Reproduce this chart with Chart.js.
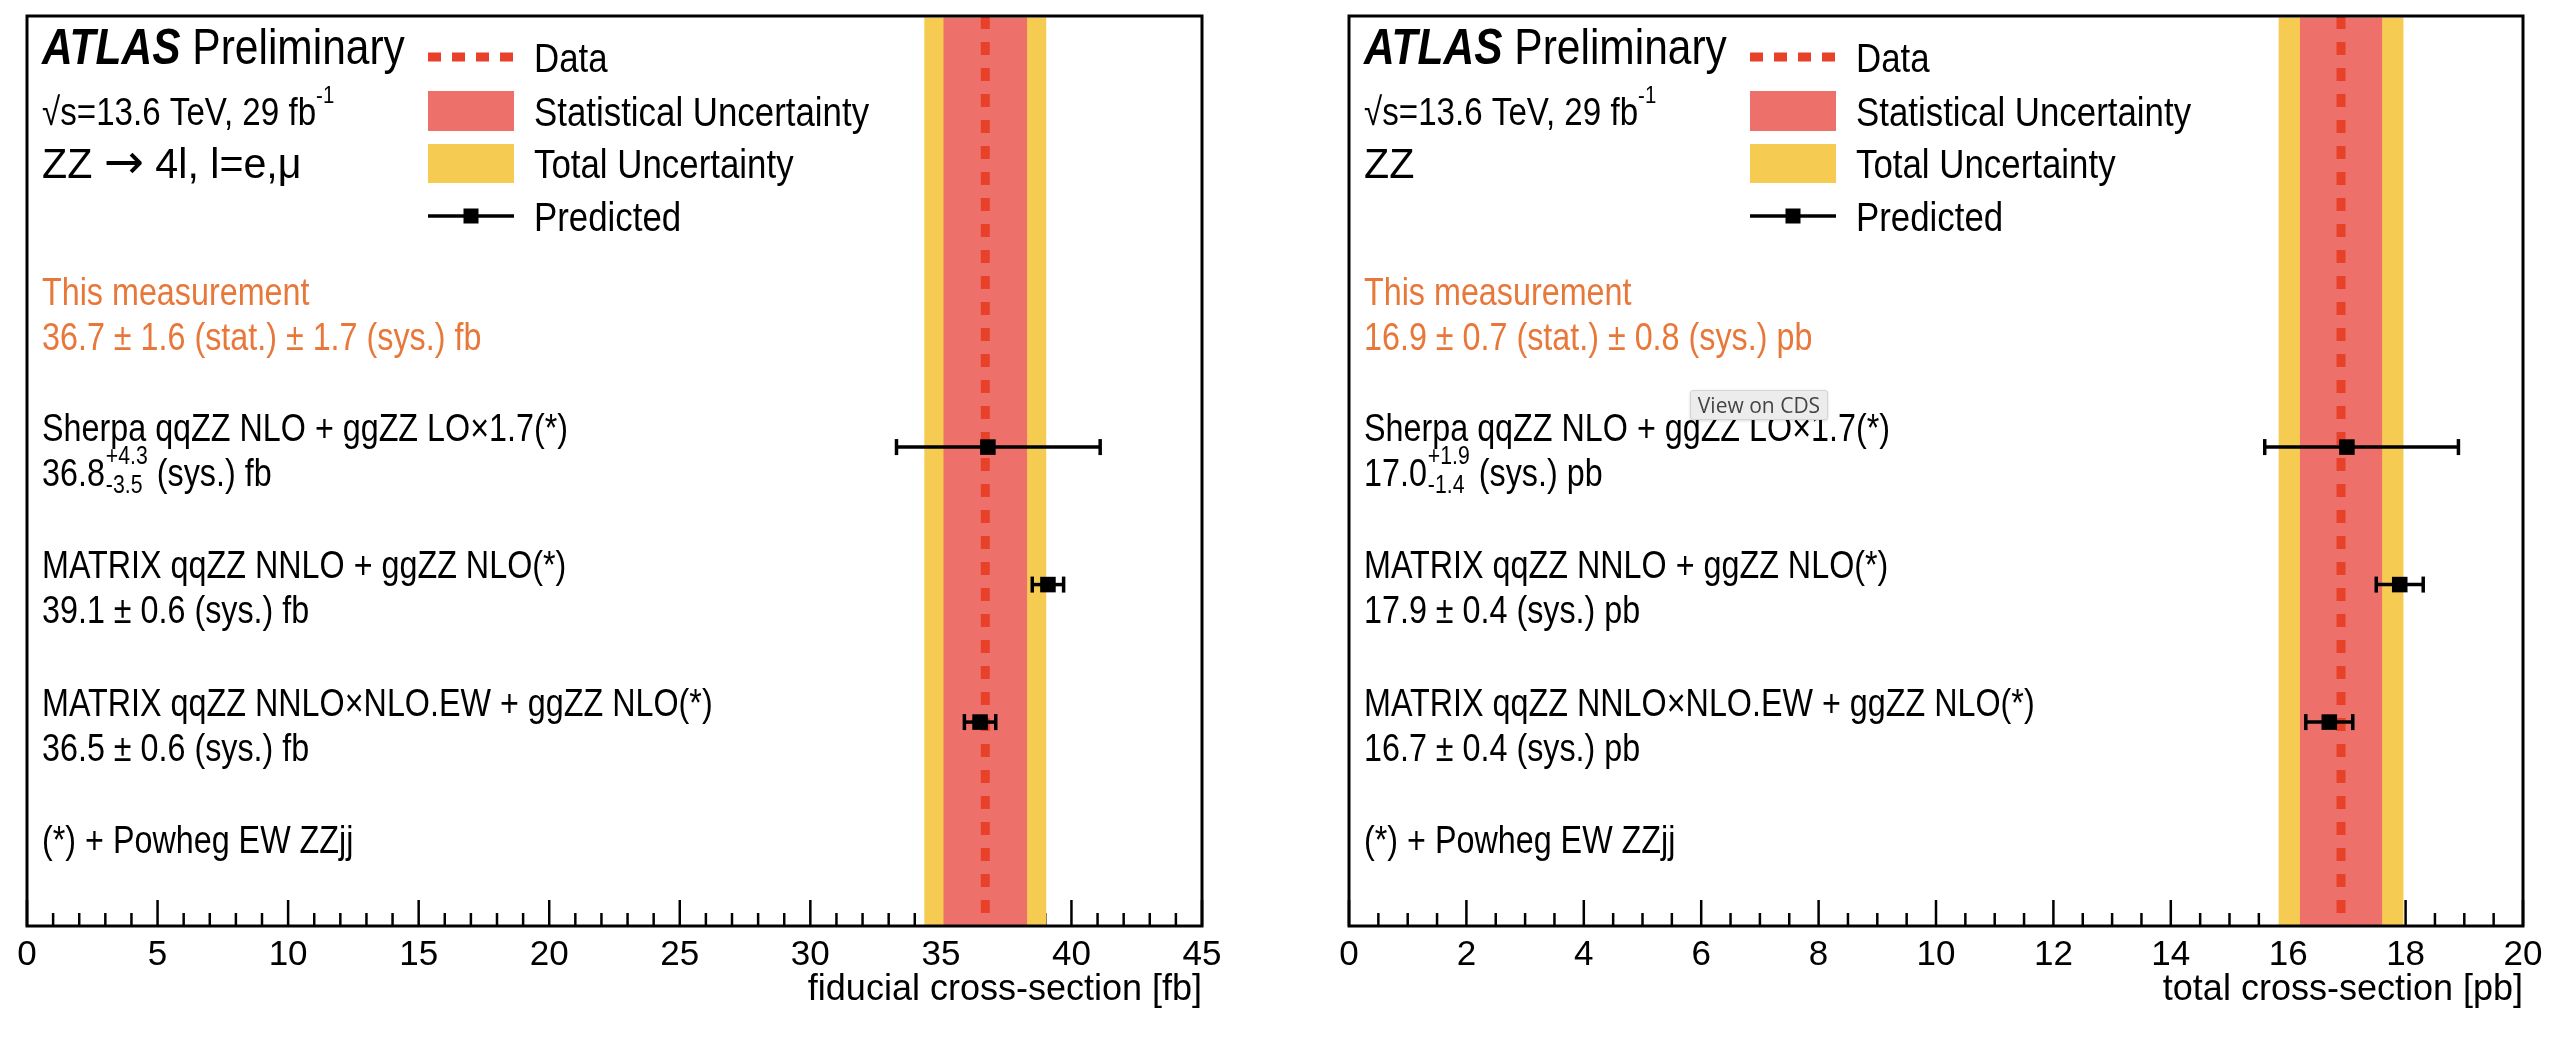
<!DOCTYPE html>
<html>
<head>
<meta charset="utf-8">
<script src="https://cdn.jsdelivr.net/npm/chart.js@4.4.1/dist/chart.umd.min.js"></script>
<style>
  html, body { margin: 0; padding: 0; background: #fff; overflow: hidden; }
  #wrap { position: relative; width: 2560px; height: 1042px; }
  canvas { position: absolute; top: 0; }
  #fidCanvas { left: 0; }
  #totCanvas { left: 1280px; }
  #cdsTip {
    position: absolute; left: 1690px; top: 390px; width: 136px; height: 28px;
    background: #ececec; border: 1px solid #d4d4d4; border-radius: 3px;
    box-shadow: 0 1px 3px rgba(0,0,0,0.15);
    font: 21px 'Open Sans', sans-serif; color: #444; text-align: center; line-height: 28px;
  }
</style>
</head>
<body>
<div id="wrap">
  <canvas id="fidCanvas" width="1280" height="1042"></canvas>
  <canvas id="totCanvas" width="1280" height="1042"></canvas>
  <div id="cdsTip">View on CDS</div>
</div>
<script>
// ---- data ----
const modelNames = [
  'Sherpa qqZZ NLO + ggZZ LO×1.7(*)',
  'MATRIX qqZZ NNLO + ggZZ NLO(*)',
  'MATRIX qqZZ NNLO×NLO.EW + ggZZ NLO(*)'
];

// fiducial cross-section [fb]
const fidMeas = 36.7, fidStat = 1.6, fidSys = 1.7;
const fidPred = [36.8, 39.1, 36.5];
const fidErrUp = [4.3, 0.6, 0.6];
const fidErrDown = [3.5, 0.6, 0.6];

// total cross-section [pb]
const totMeas = 16.9, totStat = 0.7, totSys = 0.8;
const totPred = [17.0, 17.9, 16.7];
const totErrUp = [1.9, 0.4, 0.4];
const totErrDown = [1.4, 0.4, 0.4];

const legendLabels = ['Data', 'Statistical Uncertainty', 'Total Uncertainty', 'Predicted'];
const footnote = '(*) + Powheg EW ZZjj';

// ---- style ----
const FONT = "'Liberation Sans', Arial, Helvetica, sans-serif";
const SX = 0.85;             // condensed look of the ROOT fonts
const YELLOW = '#f6cb52';
const RED = '#ee706a';
const DATA_RED = '#e8412a';
const ORANGE = '#e8783a';
const Y_MIN = -2.135, Y_MAX = 4.483;

Chart.defaults.font.family = FONT;
Chart.defaults.color = '#000';

function txt(ctx, s, x, yc, size, o) {
  o = o || {};
  ctx.save();
  ctx.font = (o.italic ? 'italic ' : '') + (o.bold ? 'bold ' : '') + size + 'px ' + (o.family || FONT);
  ctx.fillStyle = o.color || '#000';
  ctx.textBaseline = 'alphabetic';
  ctx.translate(x, yc + 0.36 * size + (o.dy || 0));
  ctx.scale(o.sx || SX, 1);
  ctx.fillText(s, 0, 0);
  const w = ctx.measureText(s).width * (o.sx || SX);
  ctx.restore();
  return w;
}

function fmt(v) { return v.toFixed(1); }

function panelPlugin(p) {
  return {
    id: 'zzPanel',
    beforeDatasetsDraw(chart) {
      const ctx = chart.ctx, a = chart.chartArea, x = chart.scales.x;
      // inward tick marks
      ctx.save();
      ctx.strokeStyle = '#000';
      ctx.lineWidth = 2.5;
      x.ticks.forEach(t => {
        const px = x.getPixelForValue(t.value);
        const r = t.value / p.major;
        const len = Math.abs(r - Math.round(r)) < 1e-6 ? 26 : 13;
        ctx.beginPath();
        ctx.moveTo(px, a.bottom);
        ctx.lineTo(px, a.bottom - len);
        ctx.stroke();
      });
      // uncertainty bands
      const tot = Math.hypot(p.stat, p.sys);
      const x1 = x.getPixelForValue(p.meas - tot), x2 = x.getPixelForValue(p.meas + tot);
      ctx.fillStyle = YELLOW;
      ctx.fillRect(x1, a.top + 1.5, x2 - x1, a.bottom - a.top - 1.5);
      const s1 = x.getPixelForValue(p.meas - p.stat), s2 = x.getPixelForValue(p.meas + p.stat);
      ctx.fillStyle = RED;
      ctx.fillRect(s1, a.top + 1.5, s2 - s1, a.bottom - a.top - 1.5);
      ctx.restore();
    },
    afterDraw(chart) {
      const ctx = chart.ctx, a = chart.chartArea, y = chart.scales.y;
      // frame
      ctx.save();
      ctx.strokeStyle = '#000';
      ctx.lineWidth = 3;
      ctx.strokeRect(a.left, a.top, a.right - a.left, a.bottom - a.top);
      ctx.restore();

      const tx = a.left + 15;
      // ATLAS label
      let w = txt(ctx, 'ATLAS', tx, 46, 50, { bold: true, italic: true });
      txt(ctx, ' Preliminary', tx + w, 46, 50);
      w = txt(ctx, '√s=13.6 TeV, 29 fb', tx, 111, 39);
      txt(ctx, '-1', tx + w, 111, 24, { dy: -17 });
      let px = tx;
      p.process.forEach(seg => {
        px += seg === '→'
          ? txt(ctx, seg, px, 163, 48, { family: "'DejaVu Sans', sans-serif", sx: 1, dy: -2 })
          : txt(ctx, seg, px, 163, 42, { sx: 0.98 });
      });

      // legend
      const lx = a.left + 401, lw = 86, ltx = a.left + 507;
      ctx.save();
      ctx.strokeStyle = DATA_RED;
      ctx.lineWidth = 9;
      ctx.setLineDash([13, 11]);
      ctx.beginPath(); ctx.moveTo(lx, 57); ctx.lineTo(lx + lw, 57); ctx.stroke();
      ctx.setLineDash([]);
      ctx.fillStyle = RED; ctx.fillRect(lx, 91, lw, 40);
      ctx.fillStyle = YELLOW; ctx.fillRect(lx, 144, lw, 39);
      ctx.strokeStyle = '#000'; ctx.lineWidth = 3.5;
      ctx.beginPath(); ctx.moveTo(lx, 216); ctx.lineTo(lx + lw, 216); ctx.stroke();
      ctx.fillStyle = '#000'; ctx.fillRect(lx + lw / 2 - 7.5, 216 - 7.5, 15, 15);
      ctx.restore();
      [57, 111, 163, 216].forEach((ly, i) => txt(ctx, legendLabels[i], ltx, ly, 41));

      // measurement block
      const y0 = y.getPixelForValue(0);
      txt(ctx, 'This measurement', tx, y0 - 18, 38, { color: ORANGE });
      txt(ctx, fmt(p.meas) + ' ± ' + fmt(p.stat) + ' (stat.) ± ' + fmt(p.sys) + ' (sys.) ' + p.unit,
          tx, y0 + 27, 38, { color: ORANGE });

      // predictions
      modelNames.forEach((name, i) => {
        const yr = y.getPixelForValue(i + 1);
        txt(ctx, name, tx, yr - 20, 38);
        const lineY = yr + 25;
        let cx = tx + txt(ctx, fmt(p.pred[i]), tx, lineY, 38);
        if (p.up[i] !== p.down[i]) {
          const wu = txt(ctx, '+' + fmt(p.up[i]), cx + 1, lineY, 25, { dy: -17 });
          const wd = txt(ctx, '-' + fmt(p.down[i]), cx + 1, lineY, 25, { dy: 12 });
          cx += Math.max(wu, wd) + 1;
          txt(ctx, ' (sys.) ' + p.unit, cx, lineY, 38);
        } else {
          txt(ctx, ' ± ' + fmt(p.up[i]) + ' (sys.) ' + p.unit, cx, lineY, 38);
        }
      });

      txt(ctx, footnote, tx, y.getPixelForValue(4) - 20, 38);
    }
  };
}

function makePanel(p) {
  const rows = p.pred.map((v, i) => i + 1);
  const datasets = [];
  // markers (drawn on top)
  datasets.push({
    data: p.pred.map((v, i) => ({ x: v, y: rows[i] })),
    pointStyle: 'rect', pointRadius: 11, pointHoverRadius: 11,
    pointBackgroundColor: '#000', pointBorderWidth: 0, showLine: false, order: 0
  });
  // error bars with caps
  p.pred.forEach((v, i) => {
    datasets.push({
      data: [{ x: v - p.down[i], y: rows[i] }, { x: v + p.up[i], y: rows[i] }],
      showLine: true, borderColor: '#000', borderWidth: 3.5,
      pointStyle: 'line', pointRotation: 90, pointRadius: 8, pointHoverRadius: 8,
      pointBorderColor: '#000', pointBorderWidth: 3.5, order: 1
    });
  });
  // measured value, dashed line
  datasets.push({
    data: [{ x: p.meas, y: Y_MIN }, { x: p.meas, y: Y_MAX }],
    showLine: true, borderColor: DATA_RED, borderWidth: 9, borderDash: [13, 13],
    borderCapStyle: 'butt', pointRadius: 0, order: 2
  });

  return new Chart(document.getElementById(p.canvas), {
    type: 'scatter',
    data: { datasets: datasets },
    options: {
      responsive: false,
      animation: false,
      devicePixelRatio: 1,
      layout: { padding: p.pad },
      plugins: { legend: { display: false }, tooltip: { enabled: false } },
      scales: {
        x: {
          type: 'linear', min: p.min, max: p.max,
          grid: { display: false },
          border: { display: false },
          ticks: {
            stepSize: p.minor, autoSkip: false, maxRotation: 0, padding: 0,
            font: { size: 35 }, color: '#000',
            callback: v => {
              const r = v / p.major;
              return Math.abs(r - Math.round(r)) < 1e-6 ? String(Math.round(v)) : '';
            }
          },
          title: {
            display: true, text: p.title, align: 'end',
            font: { size: 36 }, color: '#000', padding: { top: 0, bottom: 30 }
          },
          afterFit: s => { s.height = 116; }
        },
        y: { type: 'linear', display: false, reverse: true, min: Y_MIN, max: Y_MAX }
      }
    },
    plugins: [panelPlugin(p)]
  });
}

makePanel({
  canvas: 'fidCanvas', pad: { left: 27, right: 78, top: 16, bottom: 0 },
  min: 0, max: 45, minor: 1, major: 5,
  meas: fidMeas, stat: fidStat, sys: fidSys,
  pred: fidPred, up: fidErrUp, down: fidErrDown,
  unit: 'fb', title: 'fiducial cross-section [fb]', process: ['ZZ ', '→', ' 4l, l=e,μ']
});

makePanel({
  canvas: 'totCanvas', pad: { left: 69, right: 37, top: 16, bottom: 0 },
  min: 0, max: 20, minor: 0.5, major: 2,
  meas: totMeas, stat: totStat, sys: totSys,
  pred: totPred, up: totErrUp, down: totErrDown,
  unit: 'pb', title: 'total cross-section [pb]', process: ['ZZ']
});
</script>
</body>
</html>
